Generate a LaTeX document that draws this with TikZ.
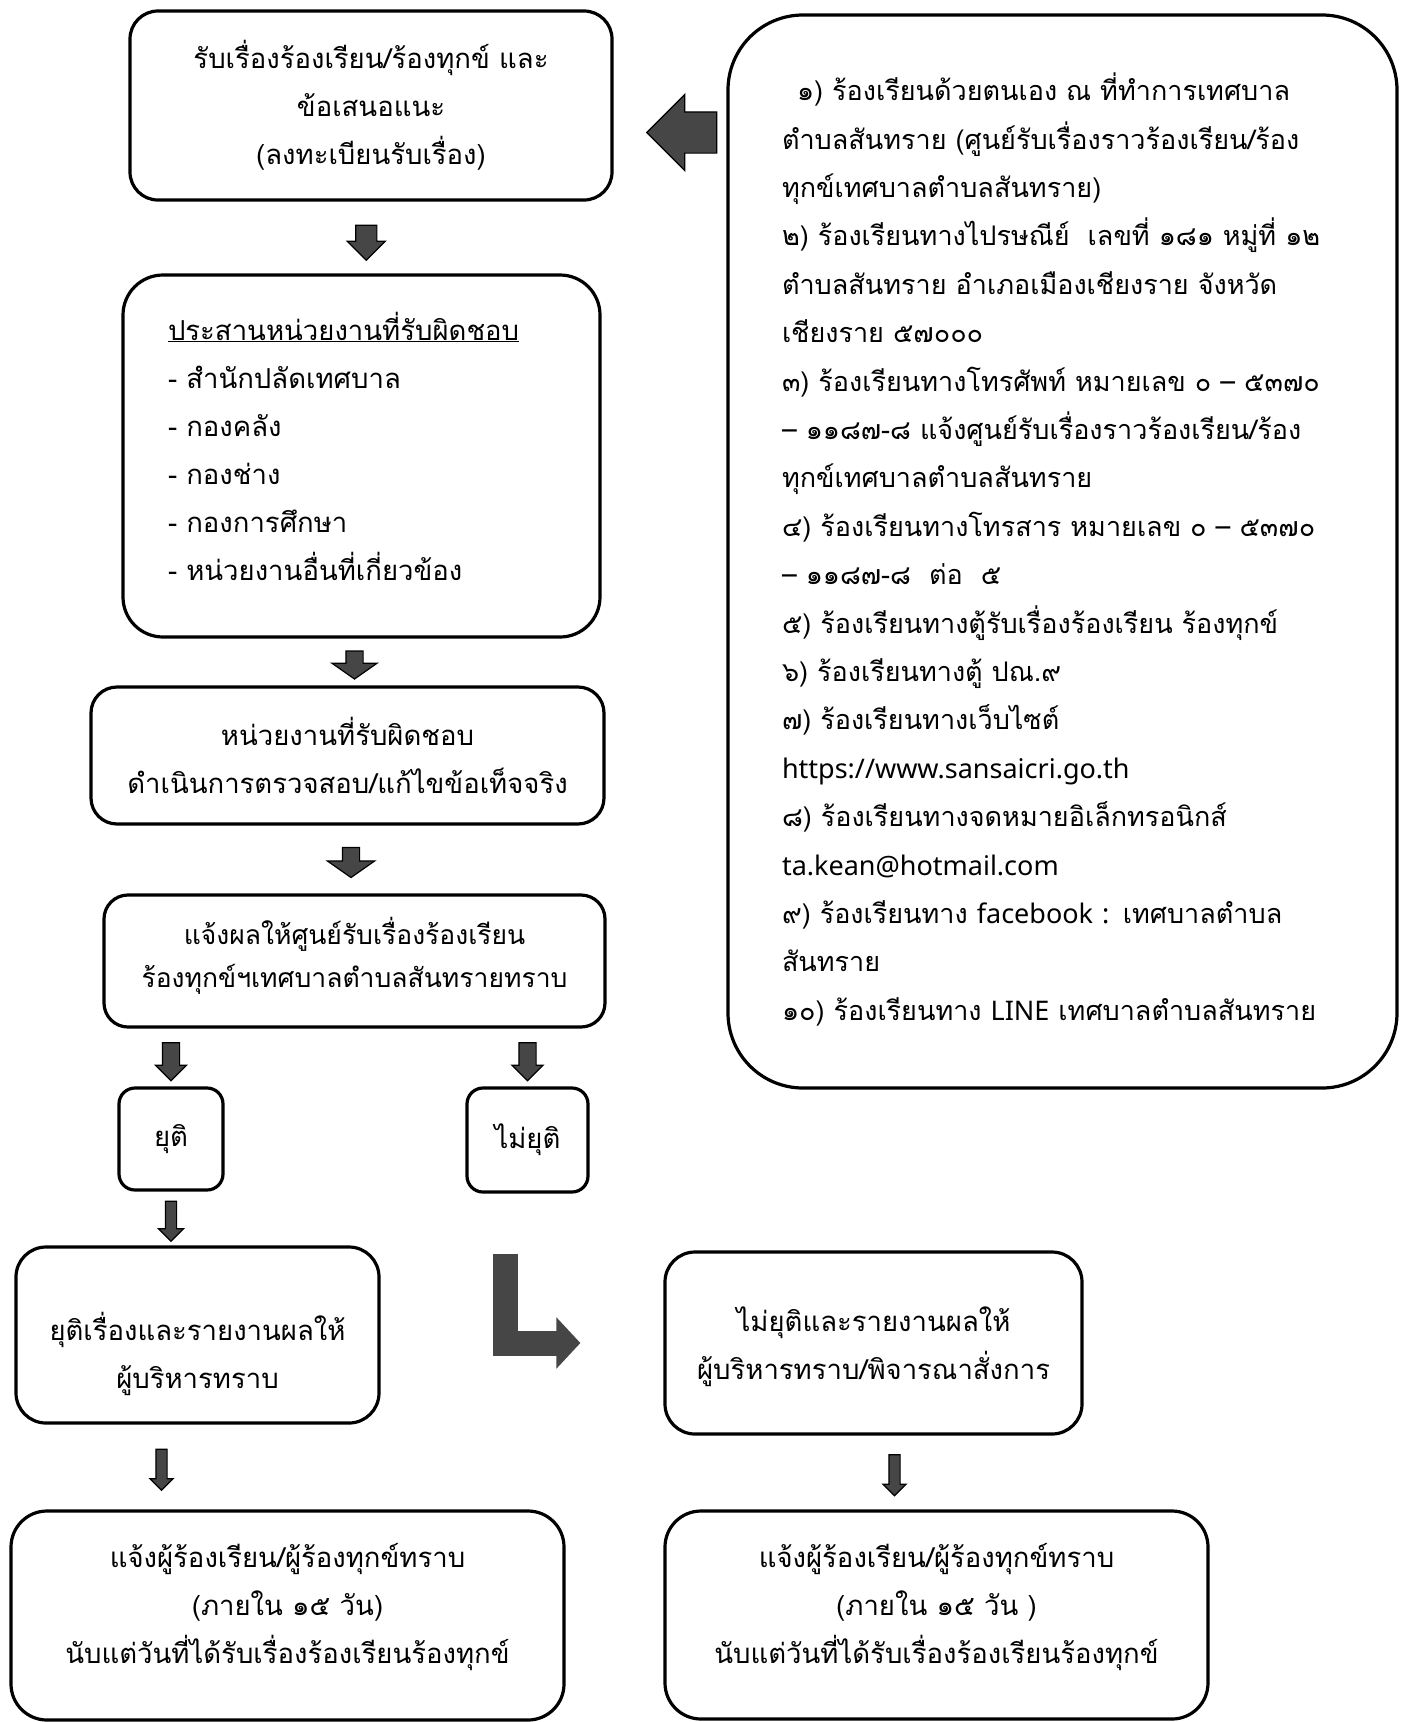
\documentclass[tikz,border=0pt]{standalone}
\usepackage{fontspec}
\usetikzlibrary{positioning, shapes.arrows, calc, arrows.meta}
\newfontfamily\thaifont[Script=Thai]{Loma}
\newfontfamily\latinfont{Noto Sans}
\definecolor{arrowgray}{RGB}{70,70,70}
\tikzset{
  box/.style={draw, line width=3.2pt, rounded corners=#1, align=center, inner sep=0pt,
    font=\thaifont\fontsize{27.5}{48}\selectfont},
  box/.default=28pt,
  boxtext/.style={align=center, inner sep=0pt, font=\thaifont\fontsize{27.5}{48}\selectfont},
  dnarrow/.style n args={3}{single arrow, shape border rotate=270, draw=black, line width=1.2pt,
    fill=arrowgray, inner sep=#1/2, minimum width=0pt, minimum height=#3,
    single arrow head extend=(#2-#1)/2},
  elbow/.style={draw=arrowgray, line width=25pt, -{Triangle[width=50pt,length=24pt]}},
}

\begin{document}
\begin{tikzpicture}[x=1pt, y=-1pt]
\useasboundingbox (0,0) rectangle (1404,1722);

% Steps of the left column
\node[box=28pt, minimum width=482, minimum height=189] (recv) at (371,105.5)
  {รับเรื่องร้องเรียน/ร้องทุกข์ และ\\ข้อเสนอแนะ\\(ลงทะเบียนรับเรื่อง)};
\node[box=40pt, minimum width=477, minimum height=362] (coord) at (361.5,456) {};
\node[boxtext, text width=387, align=left] (coordT) at ([yshift=10pt]coord.center)
  {\underline{ประสานหน่วยงานที่รับผิดชอบ}\\- สำนักปลัดเทศบาล\\- กองคลัง\\- กองช่าง\\- กองการศึกษา\\- หน่วยงานอื่นที่เกี่ยวข้อง};
\node[box=26pt, minimum width=513, minimum height=137] (check) at (347.5,755.5)
  {หน่วยงานที่รับผิดชอบ\\ดำเนินการตรวจสอบ/แก้ไขข้อเท็จจริง};
\node[box=24pt, minimum width=501, minimum height=132] (inform) at (354.5,961) {};
\node[boxtext, font=\thaifont\fontsize{26.5}{43}\selectfont] (informT) at ([yshift=5pt]inform.center)
  {แจ้งผลให้ศูนย์รับเรื่องร้องเรียน\\ร้องทุกข์ฯเทศบาลตำบลสันทรายทราบ};

% Result
\node[box=16pt, minimum width=104, minimum height=102] (yuti) at (171,1139) {ยุติ};
\node[box=16pt, minimum width=121, minimum height=104] (notyuti) at (527.5,1140) {ไม่ยุติ};

\node[box=30pt, minimum width=363, minimum height=176] (yreport) at (197.5,1335) {};
\node[boxtext] (yreportT) at ([yshift=-19pt]yreport.center)
  {ยุติเรื่องและรายงานผลให้\\ผู้บริหารทราบ};
\node[box=30pt, minimum width=417, minimum height=182] (mreport) at (873.5,1343) {};
\node[boxtext] (mreportT) at ([yshift=-4pt]mreport.center)
  {ไม่ยุติและรายงานผลให้\\ผู้บริหารทราบ/พิจารณาสั่งการ};
\node[box=36pt, minimum width=553, minimum height=209] (yinform) at (287.5,1615.5) {};
\node[boxtext] (yinformT) at ([yshift=8pt]yinform.center)
  {แจ้งผู้ร้องเรียน/ผู้ร้องทุกข์ทราบ\\(ภายใน ๑๕ วัน)\\นับแต่วันที่ได้รับเรื่องร้องเรียนร้องทุกข์};
\node[box=36pt, minimum width=543, minimum height=208] (minform) at (936.5,1615) {};
\node[boxtext] (minformT) at ([yshift=8pt]minform.center)
  {แจ้งผู้ร้องเรียน/ผู้ร้องทุกข์ทราบ\\(ภายใน ๑๕ วัน )\\นับแต่วันที่ได้รับเรื่องร้องเรียนร้องทุกข์};

% Channels
\node[box=75pt, minimum width=669, minimum height=1073] (src) at (1062.5,551.5) {};
\node[boxtext, text width=561, align=left, font=\thaifont\fontsize{27}{48.4}\selectfont] (srcT)
  at ([yshift=2pt]src.center)
  {\hspace*{15pt}๑) ร้องเรียนด้วยตนเอง ณ ที่ทำการเทศบาล\\
   ตำบลสันทราย (ศูนย์รับเรื่องราวร้องเรียน/ร้อง\\
   ทุกข์เทศบาลตำบลสันทราย)\\
   ๒) ร้องเรียนทางไปรษณีย์\ \ เลขที่ ๑๘๑ หมู่ที่ ๑๒\\
   ตำบลสันทราย อำเภอเมืองเชียงราย จังหวัด\\
   เชียงราย ๕๗๐๐๐\\
   ๓) ร้องเรียนทางโทรศัพท์ หมายเลข ๐ – ๕๓๗๐\\
   – ๑๑๘๗-๘ แจ้งศูนย์รับเรื่องราวร้องเรียน/ร้อง\\
   ทุกข์เทศบาลตำบลสันทราย\\
   ๔) ร้องเรียนทางโทรสาร หมายเลข ๐ – ๕๓๗๐\\
   – ๑๑๘๗-๘\ \ ต่อ\ \ ๕\\
   ๕) ร้องเรียนทางตู้รับเรื่องร้องเรียน ร้องทุกข์\\
   ๖) ร้องเรียนทางตู้ ปณ.๙\\
   ๗) ร้องเรียนทางเว็บไซต์\\
   {\latinfont https://www.sansaicri.go.th}\\
   ๘) ร้องเรียนทางจดหมายอิเล็กทรอนิกส์\\
   {\latinfont ta.kean@hotmail.com}\\
   ๙) ร้องเรียนทาง {\latinfont facebook :} เทศบาลตำบล\\
   สันทราย\\
   ๑๐) ร้องเรียนทาง {\latinfont LINE} เทศบาลตำบลสันทราย};

% Block arrows
\path (src.west |- recv.east) -- node[dnarrow={40}{75}{70}, shape border rotate=180, xshift=22pt, yshift=-27pt] (a0) {} (recv.east);
\path (recv.south) -- node[dnarrow={20}{37}{35}] (a1) {} (coord.north);
\path (coord.south) -- node[dnarrow={16}{44}{28}, single arrow tip angle=110] (a2) {} (check.north);
\path (check.south) -- node[dnarrow={16}{46}{30}, single arrow tip angle=110] (a3) {} (inform.north);
\path (inform.south -| yuti.north) -- node[dnarrow={16}{30}{38}] (a4) {} (yuti.north);
\path (inform.south -| notyuti.north) -- node[dnarrow={16}{30}{38}] (a5) {} (notyuti.north);
\path (yuti.south) -- node[dnarrow={10}{24}{40}] (a6) {} (yuti.south |- yreport.north);
\path (yreport.south) -- node[dnarrow={10}{22}{41}, xshift=-36pt] (a7) {} (yreport.south |- yinform.north);
\path (mreport.south) -- node[dnarrow={10}{22}{41}, xshift=21pt] (a8) {} (mreport.south |- minform.north);

% Not ended goes on to the executives
\draw[elbow] ([xshift=-22pt, yshift=-60pt]notyuti.south) |- ([xshift=-83pt]mreport.west);
\end{tikzpicture}
\end{document}
